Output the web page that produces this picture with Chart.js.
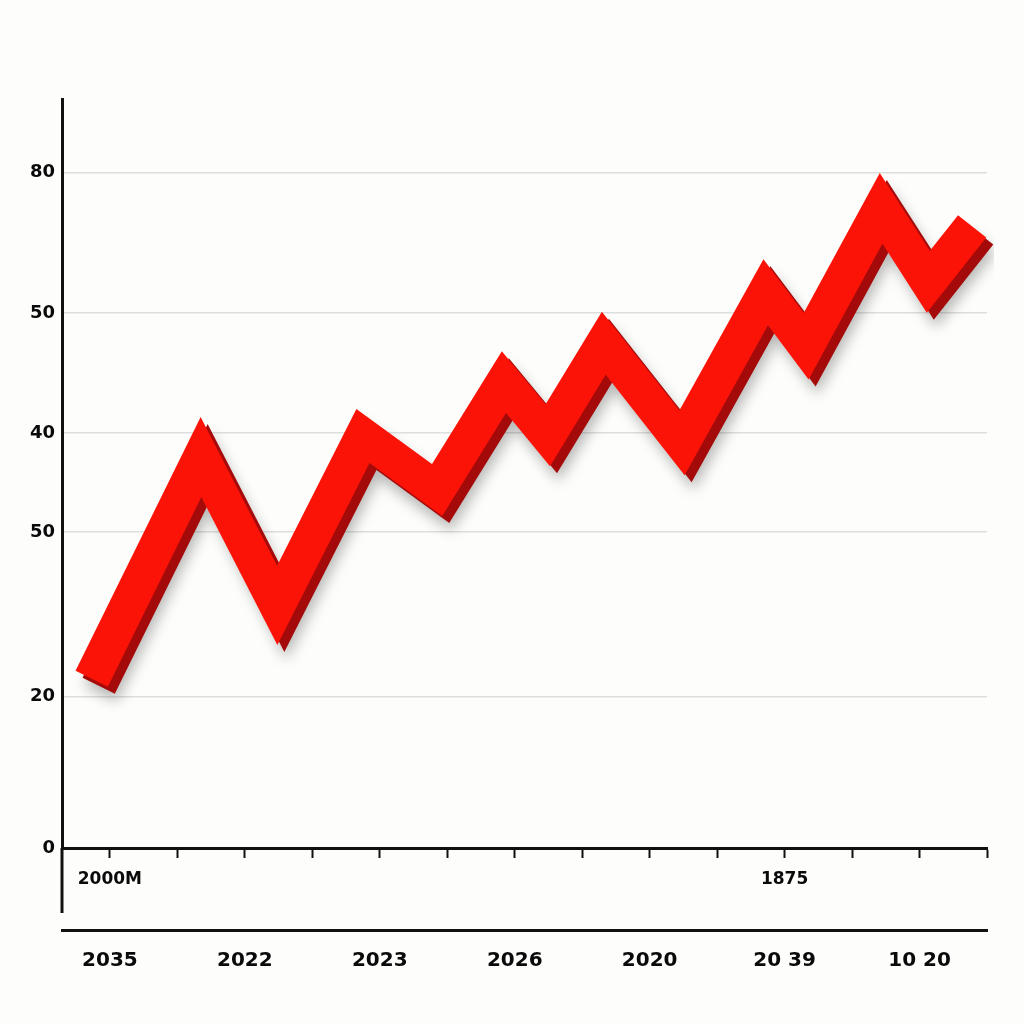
<!DOCTYPE html>
<html>
<head>
<meta charset="utf-8">
<script src="https://cdn.jsdelivr.net/npm/chart.js@4.4.1/dist/chart.umd.min.js"></script>
<style>
  html, body { margin: 0; padding: 0; background: #fdfdfc; }
  #wrap { width: 1024px; height: 1024px; position: relative; }
</style>
</head>
<body>
<div id="wrap"><canvas id="grafica"></canvas></div>
<script>
// datos
const xVals = [-0.27, 1.35, 2.48, 3.75, 4.85, 5.84, 6.49, 7.32, 8.48, 9.72, 10.32, 11.43, 12.13, 12.78];
const yVals = [22.6, 52.2, 32.4, 55.0, 47.8, 62.2, 55.1, 67.4, 54.1, 74.2, 67.0, 85.4, 75.6, 83.0];

// ejes (las etiquetas no son lineales en la imagen original)
const yTickPos = [0, 20.2, 42.2, 55.4, 71.4, 90.2];
const yTickLabels = ['0', '20', '50', '40', '50', '80'];
const xTickPos = [0, 1, 2, 3, 4, 5, 6, 7, 8, 9, 10, 11, 12, 13];
const xTickLabels = ['2000M', '', '', '', '', '', '', '', '', '', '1875', '', '', ''];
const x2TickPos = [0, 2, 4, 6, 8, 10, 12];
const x2TickLabels = ['2035', '2022', '2023', '2026', '2020', '20 39', '10 20'];

const puntos = xVals.map((x, i) => ({ x, y: yVals[i] }));

// sombra 3D: la serie oscura (indice 1) se dibuja desplazada y por debajo
const sombra3D = {
  id: 'sombra3D',
  beforeDatasetDraw(chart, args) {
    if (args.index !== 1) return;
    const ctx = chart.ctx;
    ctx.save();
    ctx.translate(7, 7);
    ctx.shadowColor = 'rgba(0,0,0,0.28)';
    ctx.shadowBlur = 14;
    ctx.shadowOffsetX = 2;
    ctx.shadowOffsetY = 8;
  },
  afterDatasetDraw(chart, args) {
    if (args.index !== 1) return;
    chart.ctx.restore();
  },
  afterDraw(chart) {
    // el eje Y sigue un poco por debajo del eje X
    const ctx = chart.ctx, a = chart.chartArea;
    ctx.save();
    ctx.strokeStyle = '#111';
    ctx.lineWidth = 3;
    ctx.beginPath();
    ctx.moveTo(a.left, a.bottom);
    ctx.lineTo(a.left, a.bottom + 65);
    ctx.stroke();
    ctx.restore();
  }
};

const xMin = -0.71, xMax = 13;

const Conf = {
  type: 'line',
  data: {
    datasets: [{
      data: puntos,
      order: 1,
      borderColor: '#fb1307',
      borderWidth: 36,
      borderJoinStyle: 'miter',
      borderCapStyle: 'butt',
      pointRadius: 0,
      tension: 0,
      fill: false
    }, {
      data: puntos,
      order: 2,
      borderColor: '#a50a0a',
      borderWidth: 36,
      borderJoinStyle: 'miter',
      borderCapStyle: 'butt',
      pointRadius: 0,
      tension: 0,
      fill: false
    }]
  },
  options: {
    responsive: true,
    maintainAspectRatio: false,
    animation: false,
    layout: { padding: { top: 99, right: 37, bottom: 34, left: 0 } },
    plugins: {
      legend: { display: false },
      tooltip: { enabled: false }
    },
    scales: {
      x: {
        type: 'linear',
        position: 'bottom',
        min: xMin, max: xMax,
        afterBuildTicks: s => { s.ticks = xTickPos.map(v => ({ value: v })); },
        afterFit: s => { s.height = 82; },
        grid: { drawOnChartArea: false, drawTicks: true, tickLength: 10, tickWidth: 2, tickColor: '#111' },
        border: { display: true, color: '#111', width: 3 },
        ticks: {
          autoSkip: false, maxRotation: 0, padding: 11,
          color: '#0a0a0a',
          font: { family: 'DejaVu Sans', weight: 'bold', size: 17 },
          callback: (v, i) => xTickLabels[i]
        }
      },
      x2: {
        type: 'linear',
        position: 'bottom',
        min: xMin, max: xMax,
        afterBuildTicks: s => { s.ticks = x2TickPos.map(v => ({ value: v })); },
        afterFit: s => { s.height = 60; },
        grid: { display: false, drawTicks: false },
        border: { display: true, color: '#111', width: 3 },
        ticks: {
          autoSkip: false, maxRotation: 0, padding: 19,
          color: '#0a0a0a',
          font: { family: 'DejaVu Sans', weight: 'bold', size: 20 },
          callback: (v, i) => x2TickLabels[i]
        }
      },
      y: {
        type: 'linear',
        min: 0, max: 100,
        afterBuildTicks: s => { s.ticks = yTickPos.map(v => ({ value: v })); },
        afterFit: s => { s.width = 62; },
        grid: {
          drawTicks: false,
          lineWidth: 1.5,
          color: c => (c.tick && c.tick.value === 0) ? 'rgba(0,0,0,0)' : '#dedede'
        },
        border: { display: true, color: '#111', width: 3 },
        ticks: {
          autoSkip: false, padding: 7,
          color: '#0a0a0a',
          font: { family: 'DejaVu Sans', weight: 'bold', size: 18 },
          callback: (v, i) => yTickLabels[i]
        }
      }
    }
  },
  plugins: [sombra3D]
};

window.Graf = new Chart(document.getElementById('grafica'), Conf);
</script>
</body>
</html>
